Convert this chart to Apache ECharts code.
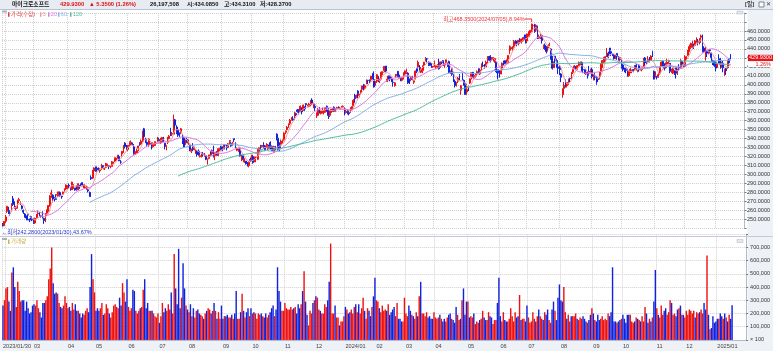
<!DOCTYPE html>
<html><head><meta charset="utf-8">
<script src="https://cdn.jsdelivr.net/npm/echarts@6/dist/echarts.min.js"></script>
<style>html,body{margin:0;padding:0;background:#fff;overflow:hidden}#c{width:773px;height:351px}</style>
</head><body><div id="c"></div>
<script>
// ---- data ----
const firstDay = '2023-01-30', lastDay = '2025-01-17';
const holidays = ['2023-02-20','2023-04-07','2023-05-29','2023-06-19','2023-07-04','2023-09-04','2023-11-23','2023-12-25',
  '2024-01-01','2024-01-15','2024-02-19','2024-03-29','2024-05-27','2024-06-19','2024-07-04','2024-09-02','2024-11-28','2024-12-25',
  '2025-01-01','2025-01-09'];
// [open, close, low, high]
const candles = [
// 2023-01
[244,242.7,242.28,246],[243,247.8,242.9,247.9],
// 2023-02
[248,252.8,246,255],[259,264.6,257,264.7],[260,258.4,256,264],[257.5,256.8,254,258],[260,267.6,259,268],[273,266.7,265,276],[268,263.6,262,270],[262,263.1,260,265],[263,271.3,262,272],[271,272.2,268,274],[269,269.3,266,270],[265,262.2,261,266],[260,258.1,256,261],[256,252.7,252,257],[254,251.5,249,254],[256,254.8,249,256],[250,249.2,247,251],[253,250.2,249,254],[250,249.4,248,252],
// 2023-03
[250,246.3,245,251],[246,251.1,245,252],[252,255.3,251,256],[256,256.9,255,260],[257,254.2,253,258],[254,253.7,252,255],[256,252.3,251,259],[251,248.6,245,252],[247,253.9,247,257],[257,260.8,254,261],[259,265.4,258,266],[265,276.2,264,277],[278,279.4,274,283],[277,272.2,269,278],[274,273.8,270,275],[273,272.3,272,278],[277,277.7,275,281],[278,280.6,275,281],[280,276.4,275,281],[276,275.2,273,276],[278,280.5,278,281],[283,284.1,281,284.5],[284,288.3,283,289],
// 2023-04
[286,287.2,283,288],[288,287.2,285,290],[285,284.3,282,285.5],[283,291.6,283,292],[289,289.4,284,289.5],[285,282.8,282,285],[285,283.5,282,288],[283,289.8,283,290],[288,286.1,284,288],[289,288.8,287,290],[291,288.4,287,291],[285,288.5,285,289],[285,286.1,284,289],[285,285.8,283,287],[283,281.8,280,284],[280,275.4,275,281],[296.7,295.4,294,299],[296,304.8,295,305],[304,307.3,302,308],
// 2023-05
[306,305.6,303,309],[307,305.4,303,309],[306,304.4,304,308],[304,305.4,302,307],[306,310.7,305,312],[310,308.7,307,310],[306,307,305,307.5],[308,312.3,307,313],[310,310.1,309,312],[310,309,306,310],[309,309.5,307,310],[309,311.7,309,315],[312,314,310,314.5],[315,318.5,314,319],[316,318.3,316,319],[318,321.2,318,322],[320,315.3,315,322],[314,313.9,312,316],[323,325.9,320,326],[325,332.9,324,333],[335,331.2,329,336],[329,328.4,327,333],
// 2023-06
[328,332.6,326,333],[334,335.4,331,337],[335,335.9,332,338],[335,333.7,332,335.5],[331,323.4,322,334],[323,325.3,322,326],[324,326.8,324,329],[329,331.9,326,332],[335,334.3,332,336],[334,337.3,333,339],[337,348.1,336,349],[351,342.3,341,352],[339,338.1,335,341],[336,333.6,332,337],[334,339.7,331,340],[334,335,333,337],[333,328.6,328,336],[331,334.6,330,336],[332,335.9,332,337],[335,335.1,332,337],[337,340.5,336,342],
// 2023-07
[339,338,337,341],[336,338.2,334,341],[337,341.3,335,342],[339,337.2,336,342],[335,331.8,328,335],[331,332.5,327,332.5],[336,337.2,334,342],[340,342.7,339,344],[347,345.2,343,352],[345,345.7,343,347],[345,359.5,345,366.8],[361,355.1,352,362],[353,346.9,345,355],[350,343.8,342,352],[346,345.1,342,347],[347,351,345,352],[342,337.8,334,345],[341,330.7,330,342],[334,338.4,333,339],[339,335.9,335,341],
// 2023-08
[335,336.3,333,339],[333,327.5,326,333],[326,326.7,324,329],[331,327.8,326,335],[328,330.1,327,331],[326,326.1,323,328],[326,322.2,320,327],[326,322.9,321,328],[320,321,319,323],[321,324,319,324.5],[323,321.9,320,325],[320,320.4,320,324],[321,316.9,316,322],[314,316.5,311,318],[318,321.9,317,322],[325,322.5,321,326],[323,327,321,328],[332,320,319,332],[321,323,316,325],[325,323.7,321,326],[321,328.4,321,329],[328,328.8,326,330],[330,327.8,327,332],
// 2023-09
[331,328.7,326,331],[329,333.6,328,334],[333,332.9,328,334],[331,329.9,327,333],[330,334.3,330,335],[337,337.9,334,338],[335,331.8,331,336],[333,336.1,332,336.5],[340,338.7,336,340],[336,330.2,329,336],[327,329.1,326,330],[326,328.7,325,329],[329,320.8,320,330],[315,319.5,315,322],[321,317,316,321],[314,317.5,313,318],[315,312.1,311,315],[313,312.8,309,314],[310,313.6,308,315],[317,315.8,314,319],
// 2023-10
[317,321.8,315,322],[320,313.4,312,321],[314,319,314,320],[319,319.4,315,320],[317,327.3,316,329],[325,329.8,324,330],[331,328.4,327,333],[331,332.4,330,333],[333,331.2,329,336],[332,327.7,326,333],[330,332.6,330,335],[329,332.1,327,334],[333,330.1,329,336],[332,331.3,328,337],[331,326.7,326,332],[325,329.3,324,332],[331,330.5,327,332],[345,340.7,338,346],[340,327.9,327,341],[331,329.8,326,336],[333,337.3,332,339],[338,338.1,334,339],
// 2023-11
[339,346.1,339,347],[347,348.3,345,349],[350,352.8,349,354],[353,356.5,352,357],[357,360.5,355,362],[362,363.2,360,364],[362,360.7,360,365],[362,369.7,361,370],[368,366.7,365,369],[372,370.3,369,373],[371,369.7,367,373],[370,376.2,370,377],[373,369.9,367,375],[372,377.4,371,378],[375,373.1,371,376],[379,377.9,375,379.5],[377,377.4,375,378],[376,378.6,375,380],[378,382.7,376,383],[383,378.9,378,385],[378,378.9,374,380],
// 2023-12
[376,374.5,371,378],[369,369.1,363,369.5],[366,372.5,365,374],[374,368.8,368,375],[368,371,367,371],[370,374.2,368,374.5],[369,371.3,367,372],[370,374.4,369,375],[376,374.4,370,377],[373,365.9,362,374],[366,370.7,364,372],[369,372.7,369,373],[371,373.3,370,374],[375,370.6,370,376],[372,373.5,370,374],[374,374.6,373,375.5],[375,374.7,373,376],[373,374.1,373,375],[375,375.3,374,376.5],[375.5,376,374,377],
// 2024-01
[373,370.9,366,375],[369,370.6,368,373],[370,367.9,367,373],[369,367.8,366,372],[369,374.7,369,375],[372,375.8,371,376],[377,382.8,376,384],[387,384.6,380,390],[386,388.5,385,389],[393,390.3,385,394],[388,389.5,386,390],[392,393.9,390,394],[395,398.7,393,399],[400,396.5,394,401],[396,398.9,396,400],[401,402.6,401,406],[405,404.9,401,405.5],[404,403.9,402,406],[406,409.7,404,410],[412,408.6,406,413],[406,397.6,397,415],
// 2024-02
[401,403.8,399,404],[404,411.2,402,412],[409,405.6,403,410],[405,405.5,402,407],[407,414.1,406,415],[414,414.1,411,415],[416,420.6,414,421],[421,415.3,414,421],[404,406.3,403,410],[410,409.5,405,410],[409,406.6,404,409],[407,404.1,403,409],[403,402.8,398,404],[399,402.2,398,403],[410,411.7,408,412],[415,410.3,409,415.5],[411,407.5,407,412],[408,407.5,404,408],[405,407.7,404,409],[408,413.6,406,414],
// 2024-03
[412,415.5,410,416],[414,414.9,412,418],[413,402.7,401,414],[406,402.1,401,407],[406,409.1,404,410],[408,406.2,405,410],[403,404.5,401,405],[407,415.3,406,416],[418,415.1,413,418],[420,425.2,419,427],[419,416.4,414,422],[414,417.3,413,420],[416,421.4,413,421.5],[422,425.2,418,425.5],[429,429.4,426,431],[429,428.7,425,429.9],[426,422.9,421,426],[425,421.7,421,425],[424,421.4,419,424],[420,420.7,419,421],
// 2024-04
[423,424.6,420,427],[420,421.4,418,422],[420,420.5,419,423],[425,417.9,417,429],[420,425.5,419,426],[425,424.6,423,426],[427,426.3,421,427],[422,423.3,419,424],[425,427.9,422,428],[424,421.9,420,425],[426,413.6,413,427],[414,414.6,412,416],[418,411.8,410,418],[410,404.3,403,412],[404,399.1,397,406],[400,401,398,403],[404,407.6,402,409],[410,409.1,405,412],[394,399,389,399.5],[412,406.3,405,413],[405,402.3,399,406],[402,389.3,389,402],
// 2024-05
[392,394.9,389,401],[398,397.8,393,399],[402,406.7,401,407],[409,413.5,406,414],[414,409.3,408,414],[407,410.5,406,411],[410,412.3,408,413],[413,414.7,411,416],[418,413.7,412,418],[412,416.6,411,417],[417,423.1,416,424],[421.5,421,420,426],[423,420.2,418,423],[420,425.3,420,427],[427,429,424,432],[431,430.5,427,432],[432,427,425,433],[428,430.2,427,431],[429,430.3,426,431],[425,429.2,425,430],[425,414.7,413,426],[416.8,415.1,406,416.8],
// 2024-06
[416,413.5,408,416],[412,416.1,412,416.5],[417,424,417,425],[425,424.5,421,427],[427,423.9,423,427],[424,427.9,423,428],[425,432.7,425,433],[435,441.1,434,444],[440,441.6,438,443],[438,442.6,438,443],[442,448.4,440,450],[449,446.3,445,450],[446,445.7,443,449],[447,449.8,444,450],[449,447.7,446,452],[448,451,446,451.5],[449,452.2,448,453],[453,452.9,450,456],[454,447,446,456],
// 2024-07
[449,456.7,447,457],[454,459.3,453,459.5],[458,460.8,456,461],[459,467.6,459,468.35],[466,466.2,463,467.5],[467,459.5,458,468],[461,466.3,459,466.5],[465,454.7,451,466],[452,453.6,451,456],[453,454,451,457],[455,449.5,446,456],[442,443.5,440,445],[444,440.4,439,446],[442,437.1,435,443],[441,442.9,437,444],[444,444.9,443,447],[440,428.9,428,441],[430,418.4,417,432],[419,425.3,419,426],[432,426.7,423,432],[427,422.9,419,429],[420,418.4,412,427],
// 2024-08
[420,417.1,411,422],[412,408.5,403,413],[389,395.2,385.6,396],[396,399.6,394,403],[403,398.4,397,406],[399,402.7,397,403],[402,406,400,407],[407,406.8,403,408],[409,414,406,414.5],[414,416.9,412,418],[419,421,418,422],[420,418.5,417,421],[418,421.5,417,422],[421,424.8,421,426],[424,424.1,422,426],[425,415.6,415,426],[417,416.8,413,419],[417,413.5,412,417],[412,413.8,411,414],[413,410.6,407,415],[415,413.1,411,421],[416,417.1,413,418],
// 2024-09
[417,409.4,407,419],[406,408.9,405,412],[409,408.4,405,413],[409,401.7,400,410],[407,405.7,403,409],[408,414.2,406,414.5],[415,423,409,424],[423,427,419,427.5],[425,430.6,424,431],[430,431.3,426,432],[435,435.2,431,441],[435,430.8,430,437],[441,438.7,434,441],[437,435.3,432,438],[434,433.5,432,435],[433,429.2,428,434],[429,432.1,429,433],[435,431.3,428,435],[431,428,427,432],[428,430.3,426,431],
// 2024-10
[428,420.7,418,429],[422,417.1,415,423],[417,416.5,414,419],[418,416.1,413,419],[416,409.5,409,418],[410,414.7,409,416],[415,417.5,413,419],[415,415.8,413,417],[417,416.3,414,417.5],[417,419.1,416,422],[422,418.7,416,423],[415,416.1,414,417],[422,416.7,415,423],[417,418.2,416,419],[417,418.8,415,419],[419,427.5,418,430],[430,424.6,422,431],[425,424.7,423,426],[426,428.2,425,432],[431,426.6,425,431],[428,432,428,433],[437,432.5,431,438],[415,406.4,406,416],
// 2024-11
[409,410.4,408,415],[409,408.5,406,410],[409,411.5,408,414],[413,420.2,411,421],[421,425.4,420,426],[426,422.5,421,426.5],[422,418,416,424],[419,423,418,425],[423,425.2,422,429],[426,426.9,423,428],[424,415,413,424],[414,415.8,413,418],[413,417.8,412,419],[416,415.5,411,416],[419,412.9,407,419],[411,417,411,418],[419,418.8,416,423],[419,428,419,429],[426,423,419,427],[420,423.5,420,425],
// 2024-12
[421,431,420,433],[430,431.2,428,432],[433,437.4,432,439],[437,442.6,437,445],[442,443.6,440,447],[442,446,441,449],[444,443.3,440,446],[444,449,444,450],[449,449.6,447,453],[448,447.3,444,451],[447,451.6,445,452],[453,454.5,451,456],[452,437.4,436,456],[441,437,436,443],[433,436.6,427,443],[437,435.3,431,438],[435,439.3,434,439.5],[439,438.1,435,440],[435,430.5,426,436],[427,424.8,422,428],[426,421.5,420,427],
// 2025-01
[425,418.6,415,426],[421,423.4,419,424],[428,427.9,424,434],[429,422.4,418,430],[423,424.6,419,426],[424,419,414,427],[416,417.2,410,418],[418,415.7,411,419],[419,426.3,418,428],[429,424.6,424,430],[434.085,429.93,428.37,434.31]
];
// volume, millions of shares
const volumes = [
26,30,
39,40,29,22,51,55,40,25,44,37,29,30,30,22,29,24,20,21,26,
27,26,30,24,21,17,28,28,30,33,46,54,70,43,35,36,35,28,25,24,26,33,28,
24,25,22,28,23,27,22,22,20,17,20,19,22,24,21,40,65,46,36,
22,24,22,24,28,19,20,27,24,20,17,21,26,27,25,24,32,26,43,36,29,46,
25,22,24,38,37,22,20,22,24,25,38,46,24,28,22,22,22,20,18,17,20,
13,18,28,21,24,22,27,23,36,20,65,39,27,69,24,32,58,39,26,23,
21,27,18,24,17,22,23,20,19,18,16,20,22,24,23,20,22,28,22,16,21,16,26,
16,18,18,19,17,17,19,16,20,37,16,16,21,35,22,17,21,24,18,24,
20,21,20,16,20,19,20,18,17,20,17,19,21,24,26,18,23,55,37,29,22,22,
28,24,23,23,25,23,24,25,20,27,24,27,37,52,29,19,11,22,20,28,30,
33,32,23,22,20,20,27,25,30,44,73,20,20,26,17,17,11,14,14,18,
25,23,20,21,23,20,25,27,21,27,20,24,32,22,16,24,22,18,25,33,47,
30,29,24,21,26,22,23,22,27,19,21,23,25,18,28,16,16,14,14,32,
20,18,26,22,19,18,16,21,18,33,44,20,20,18,21,17,18,16,16,21,
17,16,17,19,16,14,16,14,17,19,20,16,15,13,25,19,15,16,30,39,19,29,
29,17,18,17,20,12,14,13,15,16,22,17,15,15,21,18,17,12,15,15,28,47,
18,14,21,15,14,14,16,24,18,14,21,17,18,34,15,16,16,14,26,
17,13,14,21,16,14,18,23,18,16,15,21,19,23,15,13,23,29,22,15,32,42,
30,29,40,21,16,19,14,18,18,18,20,16,15,17,16,18,16,14,13,15,19,24,
20,15,14,19,15,16,18,15,16,15,20,18,21,55,14,14,13,14,15,16,
19,16,13,19,19,19,14,13,14,17,16,15,14,18,14,25,20,13,16,14,17,29,53,
24,19,17,26,19,22,24,19,21,30,28,19,20,18,23,24,26,19,19,17,
22,19,23,22,20,22,17,21,20,21,23,20,28,23,64,19,8,9,18,13,14,
16,16,20,18,16,20,17,14,19,16,26.2
];
const maPeriods = [5, 20, 60, 120];
const maColors = ['#f19a9a', '#d77ce0', '#86b2e8', '#52bea2'];
const titleName = '마이크로소프트';
const titlePrice = '429.9300', titleChange = '▲ 5.3500 (1.26%)', titleVol = '26,197,508';
const titleOHL = ['시:434.0850', '고:434.3100', '저:428.3700'];
const changePct = '1.26%';
const highNote = '최고468.3500(2024/07/05),8.94%';
const lowNote = '←최저242.2800(2023/01/30),43.67%';
const pricePad = 9;

// ---- build ----
const dates = [];
{
  const hol = new Set(holidays);
  let d = new Date(firstDay + 'T00:00:00Z');
  const end = new Date(lastDay + 'T00:00:00Z');
  while (d <= end) {
    const wd = d.getUTCDay();
    const s = d.toISOString().slice(0, 10);
    if (wd !== 0 && wd !== 6 && !hol.has(s)) dates.push(s);
    d = new Date(d.getTime() + 86400000);
  }
}
const cats = dates.slice();
for (let i = 0; i < pricePad; i++) cats.push('pad' + i);
const monthStart = new Set();
const labelMap = new Map();
let lastShown = -100;
dates.forEach((s, i) => {
  const newMonth = i === 0 || s.slice(0, 7) !== dates[i - 1].slice(0, 7);
  if (!newMonth) return;
  monthStart.add(i);
  if (i === 0) { labelMap.set(i, s.replace(/-/g, '/')); lastShown = i; return; }
  if (i - lastShown < 12) return;
  const m = s.slice(5, 7);
  labelMap.set(i, m === '01' ? s.slice(0, 4) + '/01' : m);
  lastShown = i;
});
const closes = candles.map(c => c[1]);
function ma(n) {
  return closes.map((c, i) => {
    if (i < n - 1) return '-';
    let s = 0; for (let k = i - n + 1; k <= i; k++) s += closes[k];
    return +(s / n).toFixed(3);
  });
}
const RED = '#ee1111', BLUE = '#1122dd';
const volData = volumes.map((v, i) => ({ value: v, itemStyle: { color: candles[i][1] >= candles[i][0] ? RED : BLUE } }));
const FONT = "'Liberation Sans','Noto Sans CJK KR',sans-serif";
const gridLine = { show: true, lineStyle: { type: 'dotted', color: '#cfcfcf', width: 1 } };

const chart = echarts.init(document.getElementById('c'), null, { renderer: 'canvas' });
const option = {
  animation: false,
  backgroundColor: '#ffffff',
  grid: [
    { left: 2, right: 26, top: 13.06, height: 215.3 },
    { left: 2, right: 26, top: 234.3, height: 105.6 }
  ],
  xAxis: [
    { type: 'category', gridIndex: 0, data: cats, axisLine: { show: false }, axisTick: { show: false }, axisLabel: { show: false },
      splitLine: Object.assign({ interval: (i) => monthStart.has(i) }, gridLine) },
    { type: 'category', gridIndex: 1, data: cats, axisLine: { show: true, lineStyle: { color: '#b4bccb' } }, axisTick: { show: false },
      axisLabel: { show: true, interval: (i) => labelMap.has(i), formatter: (v, i) => labelMap.get(i) || '', align: 'left',
        hideOverlap: false, showMinLabel: true, margin: 3.5, fontSize: 5.6, color: '#444', fontFamily: FONT },
      splitLine: Object.assign({ interval: (i) => monthStart.has(i) }, gridLine) }
  ],
  yAxis: [
    { type: 'value', gridIndex: 0, position: 'right', min: 240, max: 480, interval: 10,
      axisLine: { show: true, lineStyle: { color: '#b4bccb' } }, axisTick: { show: true, length: 2, lineStyle: { color: '#777' } },
      axisLabel: { margin: 2.5, fontSize: 5.5, color: '#333', fontFamily: FONT, formatter: v => (v < 250 || v > 460) ? '' : v.toFixed(4) },
      splitLine: gridLine },
    { type: 'value', gridIndex: 1, position: 'right', min: 0, max: 80, interval: 10,
      axisLine: { show: true, lineStyle: { color: '#b4bccb' } }, axisTick: { show: true, length: 2, lineStyle: { color: '#777' } },
      axisLabel: { margin: 4, fontSize: 5.5, color: '#333', fontFamily: FONT,
        formatter: v => v === 0 ? '× 100' : v > 70 ? '' : (v * 10000).toLocaleString('en-US') },
      splitLine: gridLine }
  ],
  series: [
    { type: 'candlestick', xAxisIndex: 0, yAxisIndex: 0, data: candles, barWidth: '90%',
      itemStyle: { color: RED, color0: BLUE, borderColor: RED, borderColor0: BLUE, borderWidth: 1 } },
    ...maPeriods.map((n, k) => ({ type: 'line', xAxisIndex: 0, yAxisIndex: 0, data: ma(n), showSymbol: false, symbol: 'none',
      lineStyle: { width: 1, color: maColors[k] }, z: 3, silent: true })),
    { type: 'bar', xAxisIndex: 1, yAxisIndex: 1, data: volData, barWidth: '96%' }
  ]
};
chart.setOption(option);

// ---- overlay graphics ----
const pt = (i, v) => chart.convertToPixel({ xAxisIndex: 0, yAxisIndex: 0 }, [i, v]);
let hiIdx = 0; candles.forEach((c, i) => { if (c[3] > candles[hiIdx][3]) hiIdx = i; });
let loIdx = 0; candles.forEach((c, i) => { if (c[2] < candles[loIdx][2]) loIdx = i; });
const hp = pt(hiIdx, candles[hiIdx][3]);
const lp = pt(loIdx, candles[loIdx][2]);
const last = candles.length - 1;
const cp = pt(last, candles[last][1]);
const tstyle = (o) => Object.assign({ fontFamily: FONT, fontSize: 6, verticalAlign: 'middle' }, o);
const g = [];
// backgrounds
g.push({ type: 'rect', shape: { x: 0, y: 0, width: 773, height: 9.5 }, style: { fill: '#e8ecf2' }, z: 50, silent: true });
g.push({ type: 'line', shape: { x1: 0, y1: 9.5, x2: 773, y2: 9.5 }, style: { stroke: '#b9c2d0', lineWidth: 1 }, z: 50, silent: true });
g.push({ type: 'rect', shape: { x: 747.5, y: 10, width: 26, height: 330.5 }, style: { fill: '#eef1f6' }, z: -100, silent: true });
g.push({ type: 'rect', shape: { x: 0, y: 340.5, width: 773, height: 11 }, style: { fill: '#eef1f6' }, z: -100, silent: true });
g.push({ type: 'line', shape: { x1: 0, y1: 236.5, x2: 773, y2: 236.5 }, style: { stroke: '#c4cad6', lineWidth: 1 }, z: 40, silent: true });
// title bar texts
const tb = [[titleName, 12, '#111'], [titlePrice, 60, '#e01010'], [titleChange, 89, '#e01010'], [titleVol, 150, '#111'],
  [titleOHL[0], 187, '#111'], [titleOHL[1], 224, '#111'], [titleOHL[2], 260, '#111'], ['[일]', 745, '#333']];
tb.forEach(([t, x, c]) => g.push({ type: 'text', x: x, y: 4.8, z: 60, silent: true, style: tstyle({ text: t, fill: c, fontWeight: 'bold', fontSize: 5.8 }) }));
g.push({ type: 'rect', shape: { x: 759, y: 2, width: 5, height: 5 }, style: { fill: '#fff', stroke: '#7a8494', lineWidth: 1 }, z: 60 });
g.push({ type: 'text', x: 766, y: 4.8, z: 60, style: tstyle({ text: '✕', fill: '#444', fontSize: 5.5 }) });
// pane icons
[[2, 10.5], [2, 238]].forEach(([x, y]) => g.push({ type: 'rect', shape: { x: x, y: y, width: 5, height: 2 }, style: { fill: '#a8afbb' }, z: 60 }));
[[737, 11], [737, 239.5]].forEach(([x, y]) => g.push({ type: 'rect', shape: { x: x, y: y, width: 6, height: 3 }, style: { fill: '#e4e7ec', stroke: '#b0b6c0', lineWidth: 0.5 }, z: 60 }));
// legends
const leg = [['가격(수정)', 8, '#e23b3b'], ['5', 40, maColors[0]], ['20', 48, maColors[1]], ['60', 58, maColors[2]], ['120', 70, maColors[3]]];
leg.forEach(([t, x, c]) => {
  g.push({ type: 'rect', shape: { x: x, y: 12.3, width: 1.5, height: 4.5 }, style: { fill: c }, z: 60 });
  g.push({ type: 'text', x: x + 2.8, y: 14.6, z: 60, style: tstyle({ text: t, fill: c, fontSize: 5.6 }) });
});
g.push({ type: 'rect', shape: { x: 8, y: 239.5, width: 1.5, height: 4.5 }, style: { fill: '#c9b24a' }, z: 60 });
g.push({ type: 'text', x: 10.8, y: 241.8, z: 60, style: tstyle({ text: '거래량', fill: '#c9b24a', fontSize: 5.6 }) });
// high / low notes
g.push({ type: 'text', x: hp[0] - 7, y: hp[1] - 4.5, z: 60, style: tstyle({ text: highNote, fill: '#ee3333', fontSize: 5.5, align: 'right' }) });
g.push({ type: 'polyline', shape: { points: [[hp[0] - 7, hp[1] - 4.5], [hp[0], hp[1] - 4.5], [hp[0], hp[1] - 1.5]] }, style: { stroke: '#ee3333', lineWidth: 1, fill: null }, z: 60 });
g.push({ type: 'text', x: lp[0] - 1, y: lp[1] + 6.5, z: 60, style: tstyle({ text: lowNote, fill: '#2233cc', fontSize: 5.5 }) });
// current price box
g.push({ type: 'rect', shape: { x: 748, y: cp[1] - 3.2, width: 25, height: 6.4 }, style: { fill: '#e8141b' }, z: 60 });
g.push({ type: 'text', x: 760.5, y: cp[1], z: 61, style: tstyle({ text: titlePrice, fill: '#fff', fontSize: 5.5, align: 'center' }) });
g.push({ type: 'rect', shape: { x: 748, y: cp[1] + 3.4, width: 25, height: 5.6 }, style: { fill: '#ffffff' }, z: 60 });
g.push({ type: 'text', x: 771, y: cp[1] + 6.2, z: 61, style: tstyle({ text: changePct, fill: '#e8141b', fontSize: 5.5, align: 'right' }) });
if (dates.length !== candles.length || volumes.length !== candles.length)
  g.push({ type: 'text', x: 300, y: 150, z: 99, style: tstyle({ text: 'LEN ' + dates.length + ' ' + candles.length + ' ' + volumes.length, fill: '#000', fontSize: 20 }) });
chart.setOption({ graphic: g });
</script>
</body></html>
